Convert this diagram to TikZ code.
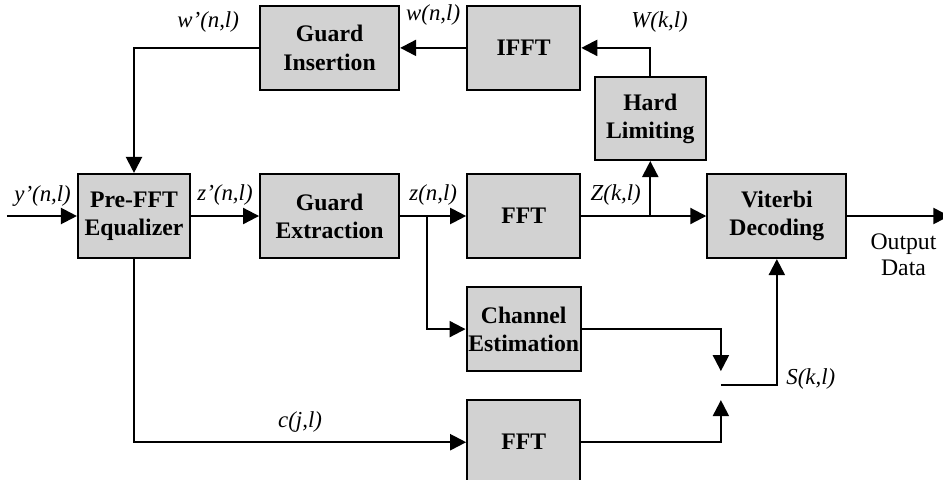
\documentclass[tikz,border=0pt]{standalone}
\usepackage{fontspec}
\setmainfont{Liberation Serif}
\usetikzlibrary{arrows.meta}
\usetikzlibrary{positioning}
\usetikzlibrary{calc}
\tikzstyle{block} = [draw, rectangle, very thick, fill = gray!35, minimum height = 1.68cm, minimum width = 2.26cm, inner sep = 1pt, align = center, font = \fontsize{13.5}{16}\selectfont\bfseries]
\tikzstyle{wideblock} = [block, minimum width = 2.78cm]
\tikzstyle{arrow} = [very thick, -{Triangle[length = 0.32cm, width = 0.32cm]}]
\tikzstyle{lbl} = [inner sep = 1pt, font = \fontsize{13}{16}\selectfont\itshape]
\tikzstyle{outlbl} = [inner sep = 1pt, align = center, font = \fontsize{13.5}{15}\selectfont]

\begin{document}
\begin{tikzpicture}
	\useasboundingbox (0,0) rectangle (18.86,-9.58);

		% Main line
		\node[block, minimum width = 2.24cm] (pre) at (2.68,-4.32) {Pre-FFT\\Equalizer};
		\node[wideblock, right = 1.36cm of pre] (gext) {Guard\\Extraction};
		\node[block, right = 1.32cm of gext] (fft1) {FFT};
		\node[wideblock, right = 2.5cm of fft1] (vit) {Viterbi\\Decoding};
		\coordinate[left = 1.4cm of pre.west] (yin);
		\coordinate[right = 0.54cm of gext.east] (zsplit);
		\coordinate[right = 1.38cm of fft1.east] (Zsplit);
		\coordinate[right = 2.04cm of vit.east] (dout);

		% Feedback path
		\node[wideblock, above = 1.64cm of gext] (gins) {Guard\\Insertion};
		\node[block, above = 1.64cm of fft1] (ifft) {IFFT};
		\node[block, minimum width = 2.22cm, minimum height = 1.66cm, above = 1.1cm of Zsplit] (hlim) {Hard\\Limiting};

		% Lower branch
		\node[block, below = 0.54cm of fft1] (chan) {Channel\\Estimation};
		\node[block, below = 0.54cm of chan] (fft2) {FFT};
		\coordinate[below right = 1.12cm and 2.78cm of chan.east] (comb);
		\coordinate[above = 0.28cm of comb] (combt);
		\coordinate[below = 0.3cm of comb] (combb);
		\coordinate (Scorner) at (comb -| vit.south);

		% Labels
		\node[lbl, above left = 0.15cm and 0.08cm of pre.west] (yplab) {y'(n,l)};
		\node[lbl, below left = 0.1cm and 0.36cm of gins.north west] (wplab) {w'(n,l)};
		\node[lbl, below right = 0.1cm and 0.96cm of ifft.north east] (Wlab) {W(k,l)};
		\node[lbl, right = 0.15cm of Scorner, yshift = 0.12cm] (Slab) {S(k,l)};

		% Connect all nodes defined above
		\draw[arrow] (yin) -- (pre);
		\draw[arrow] (pre) -- node[lbl, above = 0.15cm] (zplab) {z'(n,l)} (gext);
		\draw[arrow] (gext) -- node[lbl, above = 0.15cm] (zlab) {z(n,l)} (fft1);
		\draw[very thick] (fft1) -- node[lbl, above = 0.15cm] (Zlab) {Z(k,l)} (Zsplit);
		\draw[arrow] (Zsplit) -- (vit);
		\draw[arrow] (Zsplit) -- (hlim);
		\draw[arrow] (vit) -- node[outlbl, pos = 0.55, below = 0.3cm] (outlab) {Output\\Data} (dout);
		\draw[arrow] (hlim) |- (ifft);
		\draw[arrow] (ifft) -- node[lbl, above = 0.4cm] (wlab) {w(n,l)} (gins);
		\draw[arrow] (gins) -| (pre);
		\draw[arrow] (zsplit) |- (chan);
		\draw[arrow] (chan) -| (combt);
		\draw[arrow] (fft2) -| (combb);
		\draw[arrow] (comb) -| (vit);
		\draw[arrow] (pre) |- node[lbl, pos = 0.75, above = 0.15cm] (clab) {c(j,l)} (fft2);

	\end{tikzpicture}
\end{document}
